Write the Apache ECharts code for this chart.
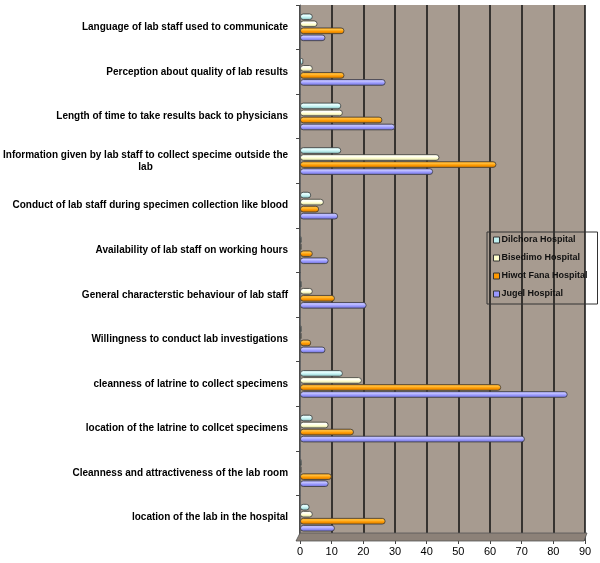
<!DOCTYPE html>
<html>
<head>
<meta charset="utf-8">
<script src="https://cdn.jsdelivr.net/npm/echarts@6/dist/echarts.min.js"></script>
<style>
html,body{margin:0;padding:0;background:#fff;}
#chart{width:600px;height:563px;}
</style>
</head>
<body>
<div id="chart"></div>
<script>
var categories = [
  "Language of lab staff used to communicate",
  "Perception about quality of lab results",
  "Length of time to take results back to physicians",
  "Information given by lab staff to collect specime outside the\nlab",
  "Conduct of lab staff during specimen collection like blood",
  "Availability of lab staff on working hours",
  "General characterstic behaviour of lab staff",
  "Willingness to conduct lab investigations",
  "cleanness of latrine to collect specimens",
  "location of the latrine to collcet specimens",
  "Cleanness and attractiveness of the lab room",
  "location of the lab in the hospital"
];
var seriesNames = ["Dilchora Hospital", "Bisedimo Hospital", "Hiwot Fana Hospital", "Jugel Hospital"];
var dilchora = [4, 1, 13, 13, 3.5, 0.5, 0.5, 0.5, 13.5, 4, 0.5, 3];
var bisedimo = [5.5, 4, 13.5, 44, 7.5, 0.5, 4, 0.5, 19.5, 9, 0.5, 4];
var hiwot = [14, 14, 26, 62, 6, 4, 11, 3.5, 63.5, 17, 10, 27];
var jugel = [8, 27, 30, 42, 12, 9, 21, 8, 84.5, 71, 9, 11];
var xTicks = [0, 10, 20, 30, 40, 50, 60, 70, 80, 90];

var baseColors = ["#bff0f0", "#ffffcc", "#ff9900", "#9999ff"];
var lightColors = ["#eaffff", "#ffffff", "#ffc040", "#c4c4ff"];
var darkColors = ["#80b4b4", "#c8c898", "#c87400", "#6a6acc"];
var allData = [dilchora, bisedimo, hiwot, jugel];

function grad(i) {
  return new echarts.graphic.LinearGradient(0, 0, 0, 1, [
    {offset: 0, color: baseColors[i]},
    {offset: 0.3, color: lightColors[i]},
    {offset: 0.6, color: baseColors[i]},
    {offset: 1, color: darkColors[i]}
  ]);
}

var FONT = 'Liberation Sans, Arial, sans-serif';
var chart = echarts.init(document.getElementById('chart'), null, {renderer: 'canvas'});
var series = seriesNames.map(function (n, i) {
  return {
    name: n,
    type: 'bar',
    data: allData[i],
    barWidth: 6.5,
    barGap: '8%',
    z: 3,
    itemStyle: {color: grad(i), borderColor: '#3a3a3a', borderWidth: 0.8, borderRadius: 3},
    emphasis: {disabled: true}
  };
});

chart.setOption({
  animation: false,
  backgroundColor: '#ffffff',
  grid: {left: 297, right: 15, top: 5, bottom: 23, show: true, backgroundColor: '#a79b90', borderWidth: 0},
  graphic: [{
    type: 'polygon',
    z: 1,
    shape: {points: [[296, 541], [300, 533], [587, 533], [584, 541]]},
    style: {fill: '#8c8178', stroke: '#555', lineWidth: 0.8}
  }],
  legend: {
    orient: 'vertical',
    left: 487,
    top: 232,
    padding: [3, 10, 5, 6],
    itemGap: 8,
    itemWidth: 6,
    itemHeight: 6,
    icon: 'rect',
    borderColor: '#333',
    borderWidth: 1,
    data: seriesNames.map(function (n, i) {
      return {name: n, itemStyle: {color: baseColors[i], borderColor: '#333', borderWidth: 1}};
    }),
    textStyle: {fontFamily: FONT, fontWeight: 'bold', fontSize: 9, color: '#111', lineHeight: 10, padding: [0, 0, 0, -3]}
  },
  xAxis: {
    type: 'value',
    min: 0,
    max: 90,
    interval: 10,
    axisLine: {show: true, lineStyle: {color: '#555', width: 1}},
    axisTick: {show: true, length: 4, lineStyle: {color: '#444'}},
    axisLabel: {
      fontFamily: FONT, fontSize: 11, color: '#000', margin: 6,
      formatter: function (v) { return xTicks.indexOf(v) >= 0 ? String(v) : ''; }
    },
    splitLine: {show: true, lineStyle: {color: '#111', width: 1.5}}
  },
  yAxis: {
    type: 'category',
    inverse: true,
    data: categories,
    axisLine: {show: true, lineStyle: {color: '#666', width: 1}},
    axisTick: {show: true, length: 4, lineStyle: {color: '#444'}},
    axisLabel: {
      margin: 12,
      fontFamily: FONT, fontWeight: 'bold', fontSize: 10, color: '#000',
      formatter: function (v) {
        var parts = v.split('\n');
        if (parts.length === 1) return parts[0];
        return '{a|' + parts[0] + '}\n{b|' + parts[1] + '}';
      },
      rich: {
        a: {fontFamily: FONT, fontWeight: 'bold', fontSize: 10, color: '#000', lineHeight: 12},
        b: {fontFamily: FONT, fontWeight: 'bold', fontSize: 10, color: '#000', lineHeight: 12, align: 'center'}
      }
    },
    splitLine: {show: false}
  },
  series: series
});
</script>
</body>
</html>
